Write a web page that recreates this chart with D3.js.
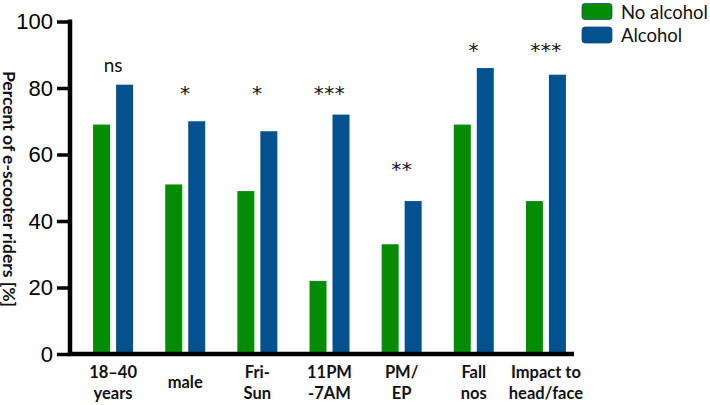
<!DOCTYPE html>
<html>
<head>
<meta charset="utf-8">
<script src="https://cdn.jsdelivr.net/npm/d3@7"></script>
<style>
  body { margin: 0; background: #fff; }
  svg { display: block; }
</style>
</head>
<body>
<figure style="margin:0"></figure>
<script>
const categories = [["18–40", "years"], ["male"], ["Fri-", "Sun"], ["11PM", "-7AM"], ["PM/", "EP"], ["Fall", "nos"], ["Impact to", "head/face"]]
const noAlcohol = [69, 51, 49, 22, 33, 69, 46]
const alcohol = [81, 70, 67, 72, 46, 86, 84]
const signif = ["ns", "*", "*", "***", "**", "*", "***"]
const signifAt = [87, 80, 80, 80, 57, 93, 93]
const seriesNames = ["No alcohol", "Alcohol"]
const yTicks = [0, 20, 40, 60, 80, 100]

const colors = ["#058c05", "#03528f"]

var svg = d3.select("figure").append("svg").attr("width", 710).attr("height", 405)

var x = d3.scaleBand()
    .domain(d3.range(categories.length))
    .range([77, 582])

var y = d3.scaleLinear()
    .domain([0, 100])
    .range([354, 21.5])

var barW = 17, gap = 6

// bars
categories.forEach(function(c, i) {
    var cx = x(i) + x.bandwidth() / 2
    ;[noAlcohol[i], alcohol[i]].forEach(function(v, k) {
        svg.append("rect")
            .attr("x", k == 0 ? cx - gap / 2 - barW : cx + gap / 2)
            .attr("y", y(v))
            .attr("width", barW)
            .attr("height", y(0) - y(v))
            .attr("fill", colors[k])
    })
    var ns = signif[i] == "ns"
    svg.append("text")
        .attr("x", cx)
        .attr("y", y(signifAt[i]) + (ns ? 0 : 5))
        .attr("text-anchor", "middle")
        .attr("dominant-baseline", "central")
        .attr("font-family", ns ? "Lato, sans-serif" : "DejaVu Sans, sans-serif")
        .attr("font-size", ns ? 19 : 20)
        .attr("letter-spacing", ns ? 0 : 0.5)
        .attr("fill", "#111")
        .text(signif[i])
})

// y axis
var yAxis = svg.append("g")
    .attr("transform", "translate(70,0)")
    .call(d3.axisLeft(y).tickValues(yTicks).tickSize(13).tickPadding(4))
yAxis.select(".domain").attr("stroke-width", 4.5).attr("d", "M0," + (y(100) - 2) + "V" + (y(0) + 2))
yAxis.selectAll(".tick line").attr("stroke-width", 3.5)
yAxis.selectAll(".tick text")
    .attr("font-family", "Liberation Sans, Arial, sans-serif")
    .attr("font-size", 22)
    .attr("fill", "#000")

// x axis line
svg.append("line")
    .attr("x1", 68).attr("x2", 574)
    .attr("y1", y(0)).attr("y2", y(0))
    .attr("stroke", "#000").attr("stroke-width", 4.5)

// x labels
categories.forEach(function(c, i) {
    var cx = x(i) + x.bandwidth() / 2
    var t = svg.append("text")
        .attr("x", cx)
        .attr("text-anchor", "middle")
        .attr("font-family", "Lato, sans-serif")
        .attr("font-weight", "bold")
        .attr("font-size", 16.5)
        .attr("fill", "#111")
    var y0 = c.length == 1 ? 388 : 378
    c.forEach(function(line, j) {
        t.append("tspan").attr("x", cx).attr("y", y0 + j * 20.5).text(line)
    })
})

// y title
svg.append("text")
    .attr("transform", "translate(3,189) rotate(90)")
    .attr("text-anchor", "middle")
    .attr("font-family", "Lato, sans-serif")
    .attr("font-weight", "bold")
    .attr("font-size", 17.5)
    .attr("fill", "#111")
    .text("Percent of e-scooter riders [%]")

// legend
seriesNames.forEach(function(s, k) {
    var ly = 3.5 + k * 23.5
    svg.append("rect")
        .attr("x", 582).attr("y", ly)
        .attr("width", 30).attr("height", 16)
        .attr("rx", 3)
        .attr("fill", colors[k])
        .attr("stroke", "#1a4d7a").attr("stroke-width", 0.8)
    svg.append("text")
        .attr("x", 621).attr("y", ly + 15)
        .attr("font-family", "Lato, sans-serif")
        .attr("font-size", 18.5)
        .attr("fill", "#111")
        .text(s)
})
</script>
</body>
</html>
